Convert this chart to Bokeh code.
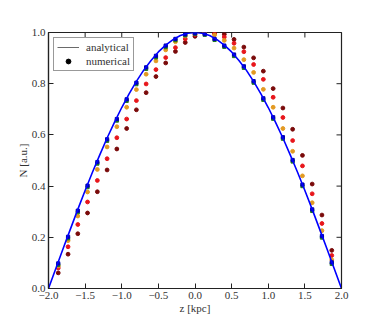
import math
from bokeh.plotting import figure
from bokeh.models import Legend, LegendItem, FixedTicker
from bokeh.embed import file_html
from bokeh.resources import INLINE

# analytical curve
z_line = [-2.0, -1.9, -1.8, -1.7, -1.6, -1.5, -1.4, -1.3, -1.2, -1.1, -1.0,
          -0.9, -0.8, -0.7, -0.6, -0.5, -0.4, -0.3, -0.2, -0.1, 0.0,
          0.1, 0.2, 0.3, 0.4, 0.5, 0.6, 0.7, 0.8, 0.9, 1.0,
          1.1, 1.2, 1.3, 1.4, 1.5, 1.6, 1.7, 1.8, 1.9, 2.0]
n_line = [0.0, 0.078, 0.156, 0.233, 0.309, 0.383, 0.454, 0.522, 0.588, 0.649, 0.707,
          0.760, 0.809, 0.853, 0.891, 0.924, 0.951, 0.972, 0.988, 0.997, 1.0,
          0.997, 0.988, 0.972, 0.951, 0.924, 0.891, 0.853, 0.809, 0.760, 0.707,
          0.649, 0.588, 0.522, 0.454, 0.383, 0.309, 0.233, 0.156, 0.078, 0.0]

# numerical samples
z_num = [-1.867, -1.733, -1.600, -1.467, -1.333, -1.200, -1.067, -0.933, -0.800, -0.667,
         -0.533, -0.400, -0.267, -0.133, 0.000, 0.133, 0.267, 0.400, 0.533, 0.667,
         0.800, 0.933, 1.067, 1.200, 1.333, 1.467, 1.600, 1.733, 1.867]
n_blue = [0.098, 0.202, 0.304, 0.402, 0.494, 0.583, 0.662, 0.739, 0.804, 0.864,
          0.909, 0.949, 0.975, 0.993, 0.997, 0.994, 0.975, 0.949, 0.914, 0.868,
          0.810, 0.743, 0.669, 0.591, 0.502, 0.406, 0.309, 0.205, 0.102]
n_green = [0.092, 0.196, 0.298, 0.396, 0.488, 0.577, 0.656, 0.733, 0.798, 0.858,
           0.903, 0.943, 0.970, 0.989, 0.995, 0.991, 0.971, 0.944, 0.908, 0.862,
           0.804, 0.737, 0.663, 0.585, 0.496, 0.400, 0.303, 0.199, 0.096]
n_orange = [0.088, 0.187, 0.283, 0.377, 0.465, 0.553, 0.632, 0.708, 0.777, 0.837,
            0.889, 0.932, 0.964, 0.986, 0.995, 0.998, 0.990, 0.969, 0.939, 0.894,
            0.844, 0.778, 0.708, 0.625, 0.536, 0.440, 0.335, 0.226, 0.112]
n_red = [0.080, 0.163, 0.250, 0.338, 0.422, 0.507, 0.589, 0.662, 0.734, 0.799,
         0.855, 0.902, 0.941, 0.975, 0.992, 0.998, 0.995, 0.982, 0.958, 0.925,
         0.875, 0.817, 0.747, 0.668, 0.578, 0.479, 0.370, 0.254, 0.129]
n_darkred = [0.061, 0.134, 0.214, 0.295, 0.378, 0.463, 0.545, 0.625, 0.698, 0.765,
             0.828, 0.881, 0.926, 0.961, 0.985, 0.997, 0.997, 0.993, 0.973, 0.943,
             0.901, 0.849, 0.781, 0.705, 0.622, 0.520, 0.408, 0.287, 0.149]

x_ticks = [-2.0, -1.5, -1.0, -0.5, 0.0, 0.5, 1.0, 1.5, 2.0]
y_ticks = [0.0, 0.2, 0.4, 0.6, 0.8, 1.0]

FONT = "Liberation Serif"

p = figure(frame_width=293, frame_height=256, x_range=(-2, 2), y_range=(0, 1),
           output_backend="svg", toolbar_location=None,
           min_border_left=48, min_border_top=32, min_border_right=30, min_border_bottom=10)
p.grid.visible = False
p.outline_line_color = "#222222"
p.outline_line_width = 1.2
p.background_fill_color = "white"
p.border_fill_color = "white"

def style_axis(ax, ticks):
    ax.ticker = FixedTicker(ticks=ticks)
    ax.major_tick_in = 5
    ax.major_tick_out = 0
    ax.minor_tick_line_color = None
    ax.axis_line_color = "#222222"
    ax.axis_line_width = 1.2
    ax.major_tick_line_color = "#222222"
    ax.major_label_text_font = FONT
    ax.major_label_text_font_size = "11px"
    ax.major_label_text_color = "#333333"
    ax.axis_label_text_font = FONT
    ax.axis_label_text_font_size = "11px"
    ax.axis_label_text_font_style = "normal"
    ax.axis_label_text_color = "#333333"
    ax.axis_label_standoff = 0
    ax.major_label_standoff = 3
    ax.major_label_overrides = {t: ("%.1f" % t).replace("-", "\u2212") for t in ticks}

style_axis(p.xaxis[0], x_ticks)
style_axis(p.yaxis[0], y_ticks)
p.xaxis[0].axis_label = "z [kpc]"
p.yaxis[0].axis_label = "N [a.u.]"

# inward ticks on the top and right edges of the frame
p.ray(x=x_ticks, y=[y_ticks[-1]] * len(x_ticks), length=5, length_units="screen",
      angle=-math.pi / 2, line_color="#222222", line_width=1)
p.ray(x=[x_ticks[-1]] * len(y_ticks), y=y_ticks, length=5, length_units="screen",
      angle=math.pi, line_color="#222222", line_width=1)

ms = 3.8
p.scatter(z_num, n_darkred, size=ms, color="#7a0a0a")
p.scatter(z_num, n_red, size=ms, color="#e8161b")
p.scatter(z_num, n_orange, size=ms, color="#e39a22")
p.scatter(z_num, n_green, size=3.2, marker="square", color="#1f7a1f")
p.scatter(z_num, n_blue, size=3.2, marker="square", color="#0000b0")
p.line(z_line, n_line, line_color="#0000ff", line_width=1.6)

# legend proxies (never visible in the data area)
nan = float("nan")
r_line = p.line([nan, nan], [nan, nan], line_color="#444444", line_width=0.8)
r_dot = p.scatter([nan], [nan], size=4.5, color="black")
legend = Legend(items=[LegendItem(label="analytical", renderers=[r_line]),
                       LegendItem(label="numerical", renderers=[r_dot])],
                location="top_left")
legend.margin = 5
legend.padding = 3
legend.spacing = 2
legend.glyph_width = 22
legend.glyph_height = 12
legend.label_height = 12
legend.label_standoff = 7
legend.label_text_font = FONT
legend.label_text_font_size = "11px"
legend.label_text_color = "#333333"
legend.border_line_color = "#333333"
legend.border_line_width = 1
legend.background_fill_alpha = 1
p.add_layout(legend, "center")

open("out.html", "w").write(file_html(p, INLINE))
